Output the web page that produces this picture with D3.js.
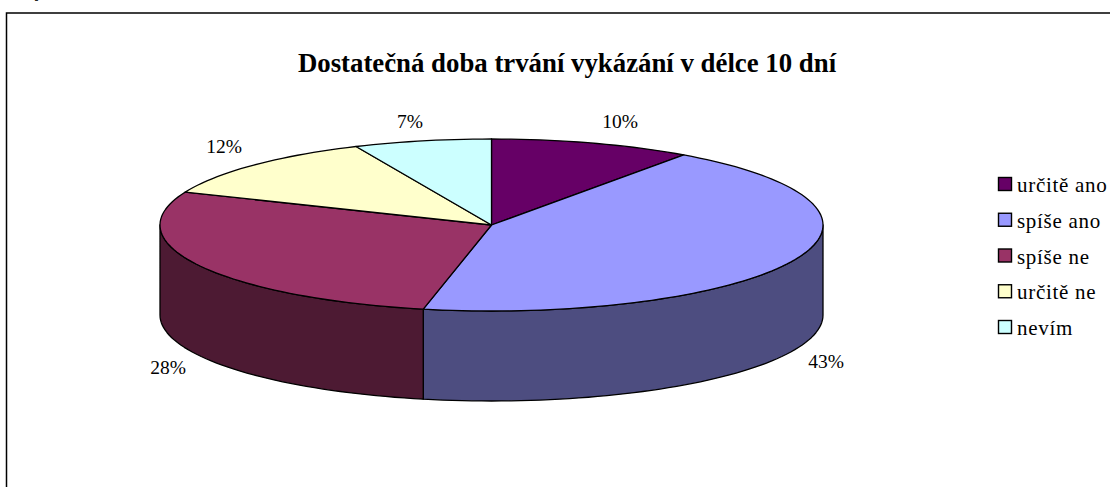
<!DOCTYPE html>
<html><head><meta charset="utf-8">
<style>html,body{margin:0;padding:0;background:#fff;overflow:hidden}svg{display:block}text{font-family:"Liberation Serif","Times New Roman",serif;fill:#000}</style>
<script src="https://cdn.jsdelivr.net/npm/d3@7"></script></head><body>
<script>
const titleText = "Dostatečná doba trvání vykázání v délce 10 dní";
const categories = ["určitě ano","spíše ano","spíše ne","určitě ne","nevím"];
const values = [9.85,43.45,27.95,12.05,6.7];
const topColors = ["#660066","#9999ff","#993366","#ffffcc","#ccffff"];
const sideColors = ["#330033","#4d4d80","#4d1a33","#808066","#668080"];
const labelPos = [[620,121],[826,361],[168,367],[224,146],[410,121]];

const W=1110,H=487,cx=491.5,cy=225,rx=331.5,ry=86,depth=90;
const svg=d3.select("body").append("svg").attr("width",W).attr("height",H);
const px=d3.scaleLinear().domain([-1,1]).range([cx-rx,cx+rx]);
const py=d3.scaleLinear().domain([-1,1]).range([cy+ry,cy-ry]);
const arcs=d3.pie().sort(null)(values);
const pt=a=>[px(Math.sin(a)),py(Math.cos(a))];
const line=d3.line();
function samples(a0,a1){const n=Math.max(2,Math.ceil((a1-a0)/0.03));return d3.range(n+1).map(i=>a0+(a1-a0)*i/n);}

svg.append("text").attr("x",39).attr("y",-3).attr("font-size",17).attr("font-style","italic").attr("text-anchor","middle").text("j");
svg.append("path").attr("d","M6.5,487V13H1110").attr("fill","none").attr("stroke","#000").attr("stroke-width",1.5);

arcs.forEach((d,i)=>{
  const a0=Math.max(d.startAngle,Math.PI/2),a1=Math.min(d.endAngle,3*Math.PI/2);
  if(a1<=a0)return;
  const top=samples(a0,a1).map(pt);
  const bot=top.map(p=>[p[0],p[1]+depth]).reverse();
  svg.append("path").attr("d",line(top.concat(bot))+"Z").attr("fill",sideColors[i]).attr("stroke","#000").attr("stroke-width",1.3).attr("stroke-linejoin","round");
});
arcs.forEach((d,i)=>{
  const rim=samples(d.startAngle,d.endAngle).map(pt);
  svg.append("path").attr("d",line([[cx,cy]].concat(rim))+"Z").attr("fill",topColors[i]).attr("stroke","#000").attr("stroke-width",1.3).attr("stroke-linejoin","round");
});

svg.append("text").attr("x",567).attr("y",72).attr("text-anchor","middle").attr("font-size",26.8).attr("font-weight","bold").text(titleText);
values.forEach((v,i)=>{
  svg.append("text").attr("x",labelPos[i][0]).attr("y",labelPos[i][1]+7).attr("text-anchor","middle").attr("font-size",19.5).text(d3.format(".0f")(v)+"%");
});
const ly=d3.scalePoint().domain(categories).range([184,327]);
categories.forEach((c,i)=>{
  svg.append("rect").attr("x",998.5).attr("y",ly(c)-6.5).attr("width",13).attr("height",13).attr("fill",topColors[i]).attr("stroke","#000").attr("stroke-width",1.4);
  svg.append("text").attr("x",1017).attr("y",ly(c)+8).attr("font-size",21).attr("letter-spacing",0.7).text(c);
});
</script></body></html>
